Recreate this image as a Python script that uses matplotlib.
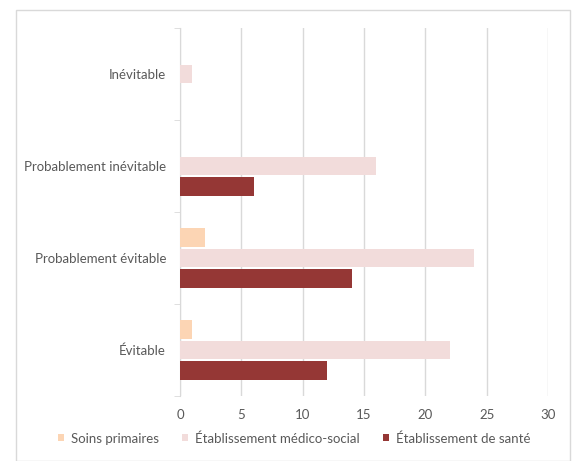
import matplotlib.pyplot as plt
import numpy as np
from matplotlib.patches import Rectangle

categories = ["Inévitable", "Probablement inévitable", "Probablement évitable", "Évitable"]
series = ["Soins primaires", "Établissement médico-social", "Établissement de santé"]
soins = [0, 0, 2, 1]
medico = [1, 16, 24, 22]
sante = [0, 6, 14, 12]
xticks = [0, 5, 10, 15, 20, 25, 30]

colors = ["#FCD5B4", "#F2DCDB", "#953735"]
text_col = "#595959"

plt.rcParams["font.family"] = ["Lato", "DejaVu Sans"]

fig = plt.figure(figsize=(5.77, 4.61), dpi=100)
fig.patches.append(Rectangle((16 / 577, 0), 554 / 577, 451 / 461, transform=fig.transFigure,
                             fill=False, edgecolor="#D9D9D9", linewidth=1))
ax = fig.add_axes([180 / 577, 65 / 461, 368 / 577, 368 / 461])

# categories top to bottom, each slot 1 unit tall
y = np.arange(len(categories))[::-1] + 0.5
h = 0.205
step = 0.22
for i, (vals, col) in enumerate(zip([soins, medico, sante], colors)):
    ax.barh(y + (1 - i) * step, vals, height=h, color=col, label=series[i], zorder=3)

ax.set_xlim(0, 30)
ax.set_ylim(0, len(categories))
ax.set_xticks(xticks)
ax.set_yticks(y)
ax.set_yticklabels(categories)
ax.set_yticks(np.arange(len(categories) + 1), minor=True)
ax.tick_params(axis="y", which="major", length=0, pad=10, labelsize=9.5, labelcolor=text_col)
ax.tick_params(axis="y", which="minor", length=4, color="#D9D9D9")
ax.tick_params(axis="x", length=0, pad=9, labelsize=9.5, labelcolor=text_col)
ax.grid(axis="x", color="#D9D9D9", linewidth=1, zorder=0)
for s in ["top", "right", "bottom"]:
    ax.spines[s].set_visible(False)
ax.spines["left"].set_color("#D9D9D9")

fig.legend(loc="lower center", bbox_to_anchor=(0.51, 0.01), ncol=3, frameon=False,
           fontsize=9.5, labelcolor=text_col, handlelength=0.45, handleheight=0.45,
           handletextpad=0.5, columnspacing=1.8)

fig.savefig("out.png", dpi=100)
